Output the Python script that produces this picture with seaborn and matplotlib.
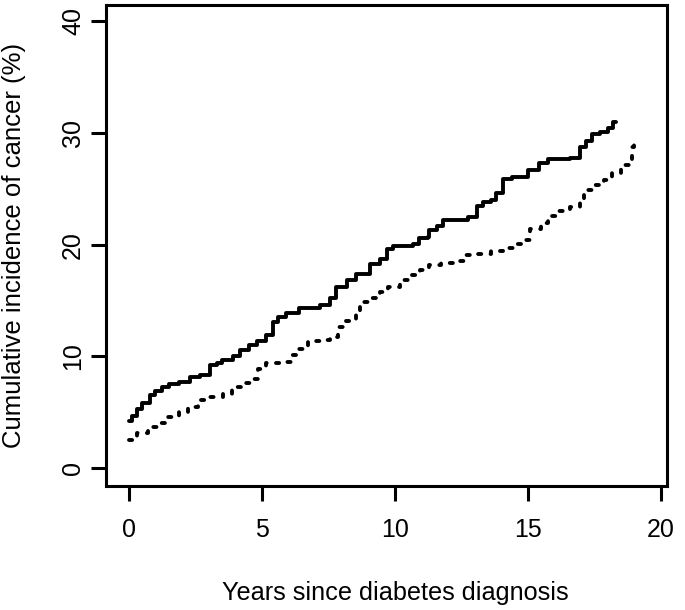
import matplotlib
matplotlib.use("Agg")
import matplotlib.pyplot as plt
import seaborn as sns
import pandas as pd

# Solid curve (step function): years, cumulative incidence (%)
solid_years = [0.0, 0.1, 0.3, 0.5, 0.8, 1.0, 1.23, 1.5, 1.9, 2.3, 2.67, 3.05, 3.3, 3.5, 3.9,
               4.17, 4.5, 4.8, 5.17, 5.4, 5.6, 5.9, 6.4, 7.2, 7.55, 7.8, 8.2, 8.55, 9.06,
               9.44, 9.69, 9.94, 10.7, 10.9, 11.25, 11.3, 11.6, 11.8, 12.3, 12.75, 13.1,
               13.3, 13.6, 13.8, 14.07, 14.4, 14.95, 15.0, 15.4, 15.76, 16.6, 16.95, 17.2,
               17.4, 17.7, 18.0, 18.2, 18.3]
solid_vals = [4.2, 4.7, 5.3, 5.8, 6.5, 6.9, 7.3, 7.5, 7.7, 8.2, 8.3, 9.2, 9.4, 9.7, 10.0,
              10.6, 11.0, 11.4, 11.9, 13.1, 13.5, 13.9, 14.3, 14.6, 15.2, 16.2, 16.8, 17.4, 18.3,
              18.7, 19.6, 19.9, 20.1, 20.6, 20.7, 21.3, 21.7, 22.2, 22.2, 22.5, 23.5,
              23.8, 24.0, 24.6, 25.9, 26.1, 26.1, 26.7, 27.3, 27.7, 27.8, 28.7, 29.3,
              29.9, 30.1, 30.4, 31.0, 31.0]

# Dotted curve (step function)
dotted_years = [0.0, 0.3, 0.73, 1.17, 1.48, 1.9, 2.23, 2.6, 3.04, 3.54, 3.86, 4.3, 4.64,
                4.86, 5.17, 5.67, 6.1, 6.4, 6.74, 7.18, 7.55, 7.87, 8.18, 8.55, 8.68, 9.06,
                9.44, 9.75, 10.2, 10.56, 10.94, 11.3, 11.75, 12.25, 12.6, 13.1, 13.6, 14.07,
                14.5, 14.9, 15.07, 15.5, 15.76, 16.1, 16.6, 16.95, 17.1, 17.5, 17.85, 18.15,
                18.5, 18.8, 18.9, 19.0]
dotted_vals = [2.5, 3.1, 3.7, 4.05, 4.6, 5.0, 5.5, 6.1, 6.4, 6.6, 7.3, 7.6, 8.0,
               8.9, 9.45, 9.5, 10.1, 10.7, 11.4, 11.5, 11.7, 12.6, 13.2, 14.0, 14.9, 15.2,
               15.8, 16.2, 16.8, 17.3, 17.7, 18.2, 18.4, 18.5, 19.05, 19.2, 19.4, 19.7,
               20.1, 20.4, 21.4, 21.9, 22.6, 23.0, 23.4, 23.9, 24.9, 25.3, 25.8, 26.4,
               27.1, 27.4, 28.7, 29.0]

x_ticks = [0, 5, 10, 15, 20]
y_ticks = [0, 10, 20, 30, 40]

sns.set_theme(style="white")
plt.rcParams['font.family'] = ['Liberation Sans', 'DejaVu Sans']

W, H = 685, 610
L, R, T, B = 106, 667, 5, 486
fig = plt.figure(figsize=(W / 100, H / 100), dpi=100)
ax = fig.add_axes([L / W, 1 - B / H, (R - L) / W, (B - T) / H])

df_s = pd.DataFrame({"t": solid_years, "v": solid_vals})
df_d = pd.DataFrame({"t": dotted_years, "v": dotted_vals})

sns.lineplot(data=df_s, x="t", y="v", ax=ax, color="black", linewidth=2.8,
             drawstyle="steps-post", estimator=None, sort=False)
sns.lineplot(data=df_d, x="t", y="v", ax=ax, color="black", linewidth=2.8,
             drawstyle="steps-post", estimator=None, sort=False,
             linestyle=(0, (0.8, 2.4)), dash_capstyle="round")

ax.set_xlim(-0.86, 20.23)
ax.set_ylim(-1.6, 41.45)
ax.set_xticks(x_ticks)
ax.set_yticks(y_ticks)
ax.set_xticklabels([str(v) for v in x_ticks])
ax.set_yticklabels([str(v) for v in y_ticks], rotation=90, va="center")

for s in ax.spines.values():
    s.set_visible(True)
    s.set_color("black")
    s.set_linewidth(2.2)

ax.tick_params(axis="both", direction="out", length=11, width=2.2, color="black",
               labelsize=18, labelcolor="black", bottom=True, left=True)
ax.tick_params(axis="x", pad=12)
ax.tick_params(axis="y", pad=4)

ax.set_xlabel("Years since diabetes diagnosis", fontsize=18.2, color="black", va="center")
ax.set_ylabel("Cumulative incidence of cancer (%)", fontsize=18.5, color="black", va="center")
ax.xaxis.set_label_coords((395 - L) / (R - L), (B - 593) / (B - T))
ax.yaxis.set_label_coords((14 - L) / (R - L), 0.5)

fig.savefig("out.png", dpi=100, facecolor="white")
